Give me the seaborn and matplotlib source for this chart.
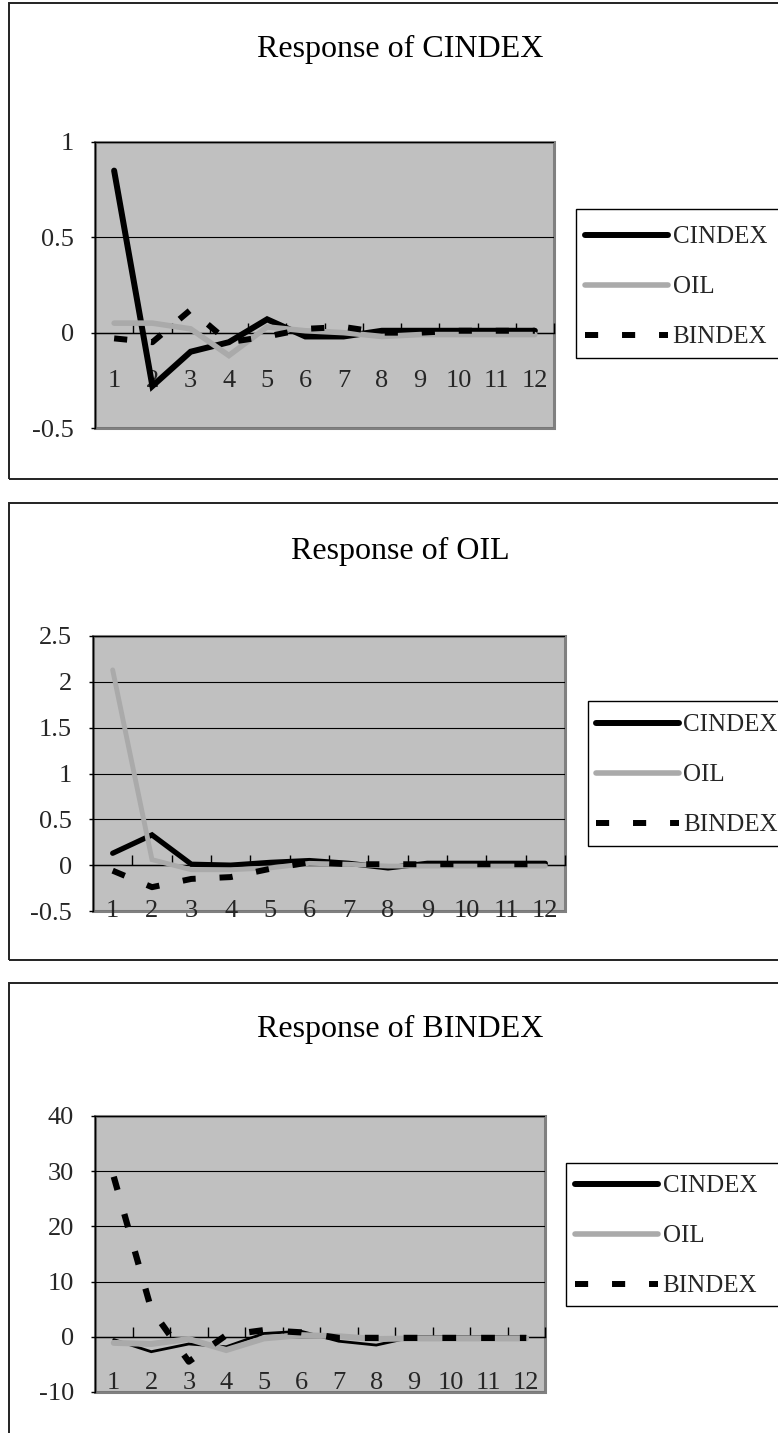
import matplotlib
matplotlib.use("Agg")
import matplotlib.pyplot as plt
import seaborn as sns
import numpy as np
from matplotlib.patches import Rectangle
from matplotlib.lines import Line2D
from matplotlib.ticker import FixedLocator, FixedFormatter, NullFormatter

# ---------------- data ----------------
periods = list(range(1, 13))
x_labels = [str(p) for p in periods]
series_names = ["CINDEX", "OIL", "BINDEX"]
panel_titles = ["Response of CINDEX", "Response of OIL", "Response of BINDEX"]

# Response of CINDEX
resp_cindex_cindex = [0.85, -0.28, -0.10, -0.05, 0.07, -0.02, -0.02, 0.01, 0.01, 0.01, 0.01, 0.01]
resp_cindex_oil = [0.05, 0.05, 0.02, -0.12, 0.03, 0.01, 0.0, -0.02, -0.01, -0.01, -0.01, -0.01]
resp_cindex_bindex = [-0.03, -0.05, 0.12, -0.05, -0.02, 0.02, 0.03, 0.0, 0.0, 0.01, 0.01, 0.01]

# Response of OIL
resp_oil_cindex = [0.13, 0.33, 0.01, 0.0, 0.03, 0.05, 0.02, -0.03, 0.02, 0.02, 0.02, 0.02]
resp_oil_oil = [2.13, 0.06, -0.05, -0.05, -0.03, 0.02, 0.01, -0.01, -0.01, -0.01, -0.01, -0.01]
resp_oil_bindex = [-0.06, -0.24, -0.15, -0.13, -0.04, 0.03, 0.01, 0.01, 0.01, 0.01, 0.01, 0.01]

# Response of BINDEX
resp_bindex_cindex = [-0.5, -2.7, -1.3, -1.8, 0.6, 1.0, -0.8, -1.5, 0.0, 0.0, 0.0, 0.0]
resp_bindex_oil = [-1.1, -1.3, -0.4, -2.4, -0.3, 0.3, 0.1, -0.4, -0.3, -0.3, -0.3, -0.3]
resp_bindex_bindex = [29.0, 5.0, -4.5, 0.3, 1.2, 0.8, -0.2, -0.2, -0.2, -0.2, -0.2, -0.2]

yticks_1 = [-0.5, 0, 0.5, 1]
ytick_labels_1 = ["-0.5", "0", "0.5", "1"]
yticks_2 = [-0.5, 0, 0.5, 1, 1.5, 2, 2.5]
ytick_labels_2 = ["-0.5", "0", "0.5", "1", "1.5", "2", "2.5"]
yticks_3 = [-10, 0, 10, 20, 30, 40]
ytick_labels_3 = ["-10", "0", "10", "20", "30", "40"]

# ---------------- style ----------------
sns.set_theme(style="white")
plt.rcParams["font.family"] = ["Liberation Serif", "DejaVu Serif"]

W, H = 778, 1433
fig = plt.figure(figsize=(W / 100, H / 100), dpi=100)


def fx(px):
    return px / W


def fy(py):
    return 1 - py / H


series_colors = ["#000000", "#AAAAAA", "#000000"]
legend_lws = [4.3, 4.0, 4.3]
bindex_dash = (2.2, 4.0)

panels = [
    dict(title=panel_titles[0],
         data=[resp_cindex_cindex, resp_cindex_oil, resp_cindex_bindex],
         yticks=yticks_1, ylabels=ytick_labels_1,
         ax_px=(95, 142, 554, 428), frame_px=(9, 3, 820, 479), title_y=57,
         leg_box=(576, 209, 820, 358), leg_anchor=(585, 287),
         lws=[4.3, 4.0, 4.3], xpad=27),
    dict(title=panel_titles[1],
         data=[resp_oil_cindex, resp_oil_oil, resp_oil_bindex],
         yticks=yticks_2, ylabels=ytick_labels_2,
         ax_px=(93, 636, 565, 911), frame_px=(9, 503, 820, 960), title_y=559,
         leg_box=(588, 701, 820, 846), leg_anchor=(596, 775),
         lws=[3.8, 3.5, 4.3], xpad=25),
    dict(title=panel_titles[2],
         data=[resp_bindex_cindex, resp_bindex_oil, resp_bindex_bindex],
         yticks=yticks_3, ylabels=ytick_labels_3,
         ax_px=(95, 1116, 545, 1392), frame_px=(9, 983, 820, 1460), title_y=1037,
         leg_box=(566, 1163, 820, 1306), leg_anchor=(575, 1236),
         lws=[2.0, 4.3, 4.5], xpad=25),
]

# legend proxy handles (style only)
proxies = []
for name, col, lw in zip(series_names, series_colors, legend_lws):
    h = Line2D([], [], color=col, linewidth=lw, solid_capstyle="round")
    if name == "BINDEX":
        h.set_dashes(bindex_dash)
        h.set_dash_capstyle("butt")
    proxies.append(h)

for p in panels:
    # outer chart border
    x0, y0, x1, y1 = p["frame_px"]
    fig.patches.append(Rectangle((fx(x0), fy(y1)), fx(x1) - fx(x0), fy(y0) - fy(y1),
                                 transform=fig.transFigure, fill=False,
                                 edgecolor="#222222", linewidth=1.4, zorder=0))
    # title
    fig.text(fx(400), fy(p["title_y"]), p["title"], ha="center", va="baseline",
             fontsize=23, color="black")

    ax0, ay0, ax1, ay1 = p["ax_px"]
    ax = fig.add_axes([fx(ax0), fy(ay1), fx(ax1) - fx(ax0), fy(ay0) - fy(ay1)])
    ax.set_facecolor("#C0C0C0")
    ax.patch.set_edgecolor("#808080")
    ax.patch.set_linewidth(2.2)

    for name, vals, col, lw in zip(series_names, p["data"], series_colors, p["lws"]):
        sns.lineplot(x=periods, y=vals, ax=ax, color=col, linewidth=lw,
                     legend=False, zorder=3)
        ln = ax.lines[-1]
        ln.set_label(name)
        ln.set_solid_capstyle("round")
        ln.set_solid_joinstyle("miter")
        if name == "BINDEX":
            ln.set_dashes(bindex_dash)
            ln.set_dash_capstyle("butt")

    ymin, ymax = p["yticks"][0], p["yticks"][-1]
    ax.set_ylim(ymin, ymax)
    ax.set_xlim(0.5, 12.5)
    ax.set_xlabel("")
    ax.set_ylabel("")

    # gridlines
    ax.yaxis.set_major_locator(FixedLocator(p["yticks"]))
    ax.yaxis.set_major_formatter(FixedFormatter(p["ylabels"]))
    ax.grid(axis="y", color="black", linewidth=0.8, zorder=1)
    ax.grid(axis="x", visible=False)
    ax.set_axisbelow(True)
    ax.tick_params(axis="y", which="major", direction="out", length=3, width=1,
                   color="black", pad=12, labelsize=19, left=True)

    # spines
    for s in ["top", "right"]:
        ax.spines[s].set_visible(False)
    ax.spines["left"].set_color("black")
    ax.spines["left"].set_linewidth(1.0)
    ax.spines["bottom"].set_position(("data", 0))
    ax.spines["bottom"].set_color("black")
    ax.spines["bottom"].set_linewidth(1.0)
    ax.spines["bottom"].set_zorder(2)

    # category axis: tick marks between categories, labels at categories
    ax.xaxis.set_major_locator(FixedLocator(np.arange(1.5, 13, 1)))
    ax.xaxis.set_major_formatter(NullFormatter())
    ax.xaxis.set_minor_locator(FixedLocator(periods))
    ax.xaxis.set_minor_formatter(FixedFormatter(x_labels))
    ax.tick_params(axis="x", which="major", direction="in", length=7, width=1,
                   color="black", bottom=True)
    ax.tick_params(axis="x", which="minor", length=0, pad=p["xpad"], labelsize=19,
                   bottom=True)

    # legend box
    bx0, by0, bx1, by1 = p["leg_box"]
    fig.patches.append(Rectangle((fx(bx0), fy(by1)), fx(bx1) - fx(bx0), fy(by0) - fy(by1),
                                 transform=fig.transFigure, fill=True,
                                 facecolor="white", edgecolor="black",
                                 linewidth=1.0, zorder=1))
    lx, ly = p["leg_anchor"]
    leg = fig.legend(handles=proxies, labels=series_names, loc="center left",
                     bbox_to_anchor=(fx(lx), fy(ly)), bbox_transform=fig.transFigure,
                     frameon=False, fontsize=18, handlelength=3.3,
                     handletextpad=0.2, labelspacing=1.1, borderpad=0,
                     borderaxespad=0)
    leg.set_zorder(5)

fig.savefig("out.png", dpi=100)
